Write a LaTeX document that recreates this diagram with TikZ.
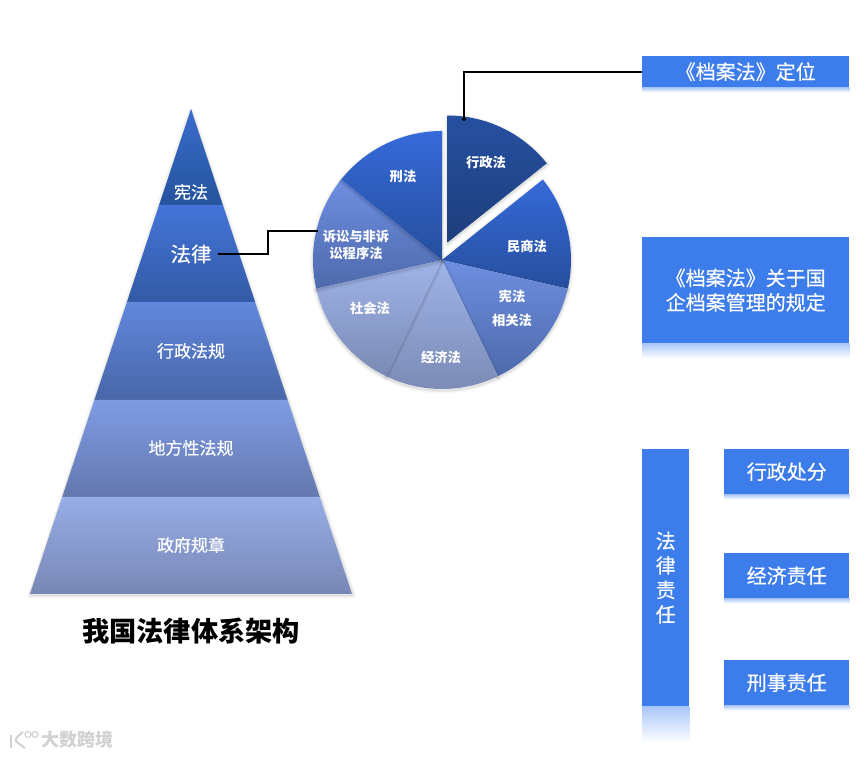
\documentclass[tikz,border=0pt]{standalone}
\usepackage{fontspec}
\setmainfont{Noto Sans CJK SC}
\newfontfamily\labfont[FakeBold=0.35]{Noto Sans CJK SC}
\usepackage{xcolor}
\usetikzlibrary{arrows.meta}
\definecolor{boxblue}{RGB}{60,124,235}
\definecolor{boxfade}{RGB}{170,198,248}
\definecolor{pyrAtop}{RGB}{58,108,205}
\definecolor{pyrAbot}{RGB}{36,84,156}
\definecolor{pyrBtop}{RGB}{68,116,216}
\definecolor{pyrBbot}{RGB}{50,90,165}
\definecolor{pyrCtop}{RGB}{98,135,220}
\definecolor{pyrCbot}{RGB}{72,102,168}
\definecolor{pyrDtop}{RGB}{126,155,227}
\definecolor{pyrDbot}{RGB}{100,120,175}
\definecolor{pyrEtop}{RGB}{151,173,232}
\definecolor{pyrEbot}{RGB}{120,135,180}
\definecolor{sliceAtop}{RGB}{38,80,160}
\definecolor{sliceAbot}{RGB}{30,62,124}
\definecolor{sliceBtop}{RGB}{54,106,218}
\definecolor{sliceBbot}{RGB}{38,78,156}
\definecolor{sliceCtop}{RGB}{110,142,224}
\definecolor{sliceCbot}{RGB}{78,106,172}
\definecolor{sliceDtop}{RGB}{160,180,232}
\definecolor{sliceDbot}{RGB}{122,138,180}
\tikzset{
  softshadow/.style = {
    preaction={draw=black,draw opacity=.03,line width=6pt,line join=round,
               transform canvas={yshift=-1.5pt}},
    preaction={draw=black,draw opacity=.04,line width=3.5pt,line join=round,
               transform canvas={yshift=-1.5pt}},
    preaction={draw=black,draw opacity=.06,line width=1.5pt,line join=round,
               transform canvas={yshift=-1.5pt}}},
  bandlab/.style    = {text=white,inner sep=6pt},
  slicelab/.style   = {text=white,font=\fontsize{13.3}{17}\selectfont\bfseries,
                       align=center,inner sep=0pt},
  bluebox/.style    = {fill=boxblue,text=white,align=center,anchor=north west,
                       inner sep=0pt,font=\labfont\fontsize{20}{24.5}\selectfont},
  connector/.style  = {draw=black,line width=2pt},
}

\begin{document}
\begin{tikzpicture}[x=1pt,y=1pt]
  \useasboundingbox (0,0) rectangle (859,757);
  % pyramid
  \path[softshadow] (191,648) -- (30,163) -- (353,163) -- cycle;
  \foreach \i/\yt/\yb/\col in {
    1/648/552/pyrA,
    2/552/455/pyrB,
    3/455/357/pyrC,
    4/357/260/pyrD,
    5/260/163/pyrE}{
    \shade[top color=\col top,bottom color=\col bot]
      ({191-(648-\yt)*0.332},\yt) -- ({191+(648-\yt)*0.332},\yt)
      -- ({191+(648-\yb)*0.332},\yb) -- ({191-(648-\yb)*0.332},\yb) -- cycle;
  }
  \node[bandlab,font=\labfont\fontsize{17}{20}\selectfont] (band1) at (191,565) {宪法};
  \node[bandlab,font=\labfont\fontsize{20.5}{24}\selectfont] (band2) at (191,503) {法律};
  \node[bandlab,font=\labfont\fontsize{17}{20}\selectfont] (band3) at (191,406) {行政法规};
  \node[bandlab,font=\labfont\fontsize{17}{20}\selectfont] (band4) at (191,309) {地方性法规};
  \node[bandlab,font=\labfont\fontsize{17}{20}\selectfont] (band5) at (191,212) {政府规章};
  \node[font=\fontsize{27.2}{30}\selectfont\bfseries] (title) at (191,126) {我国法律体系架构};
  % pie
  \foreach \a/\b/\col in {
    38.57/-12.86/sliceB,
    -12.86/-64.29/sliceC,
    -64.29/-115.71/sliceD,
    -115.71/-167.14/sliceD,
    -167.14/-218.57/sliceC,
    -218.57/-270/sliceB}{
    \shade[top color=\col top,bottom color=\col bot,softshadow]
      (442,497) -- ++(\a:129) arc (\a:\b:129) -- cycle;
  }
  \shade[top color=sliceAtop,bottom color=sliceAbot,softshadow]
    (447.5,514.5) -- ++(90:127) arc (90:38.57:127) -- cycle;
  \node[slicelab] (xingzhengfa) at (486,595) {行政法};
  \node[slicelab] (minshang) at (527,511) {民商法};
  \node[slicelab] (xianfa) at (512,449) {宪法\\[7pt]相关法};
  \node[slicelab] (jingjifa) at (441,400) {经济法};
  \node[slicelab] (shehui) at (370,449) {社会法};
  \node[slicelab,inner xsep=5pt,inner ysep=-1pt] (susong) at (356,512) {诉讼与非诉\\讼程序法};
  \node[slicelab] (xingfa) at (403,581) {刑法};
  % right column
  \node[bluebox,minimum width=207pt,minimum height=31pt] (dingwei) at (642,701) {《档案法》定位};
  \node[bluebox,minimum width=207pt,minimum height=106pt] (guiqi) at (642,520) {《档案法》关于国\\企档案管理的规定};
  \node[bluebox,minimum width=47pt,minimum height=257pt] (zeren) at (642,308) {法\\律\\责\\任};
  \node[bluebox,minimum width=125pt,minimum height=45pt] (chufen) at (724,308) {行政处分};
  \node[bluebox,minimum width=125pt,minimum height=45pt] (jingji) at (724,204) {经济责任};
  \node[bluebox,minimum width=125pt,minimum height=45pt] (xingshi) at (724,97) {刑事责任};
  \foreach \n/\d in {dingwei/5,guiqi/15,zeren/36,chufen/5,jingji/5,xingshi/5}{
    \shade[top color=boxfade,bottom color=white]
      (\n.south west) rectangle ([yshift=-\d pt]\n.south east);
  }
  % connectors
  \coordinate (falvbend) at (268,502);
  \coordinate (xingzhengtip) at (464,636);
  \draw[connector] (band2.east) -| (falvbend) |- (susong.north west);
  \draw[connector,-{Circle[length=4pt]}] (dingwei.west) -| (xingzhengtip);
  % watermark
  \draw[black!18,line width=2.5pt] (11,22) -- (11,9);
  \draw[black!18,line width=2pt] (23,25) .. controls (13,17) .. (25,9);
  \draw[black!18,line width=1.2pt] (28,22.5) circle (3) (35,22.5) circle (3);
  \node[text=black!18,font=\fontsize{18}{20}\selectfont\bfseries] (mark) at (77,17) {大数跨境};
\end{tikzpicture}
\end{document}
